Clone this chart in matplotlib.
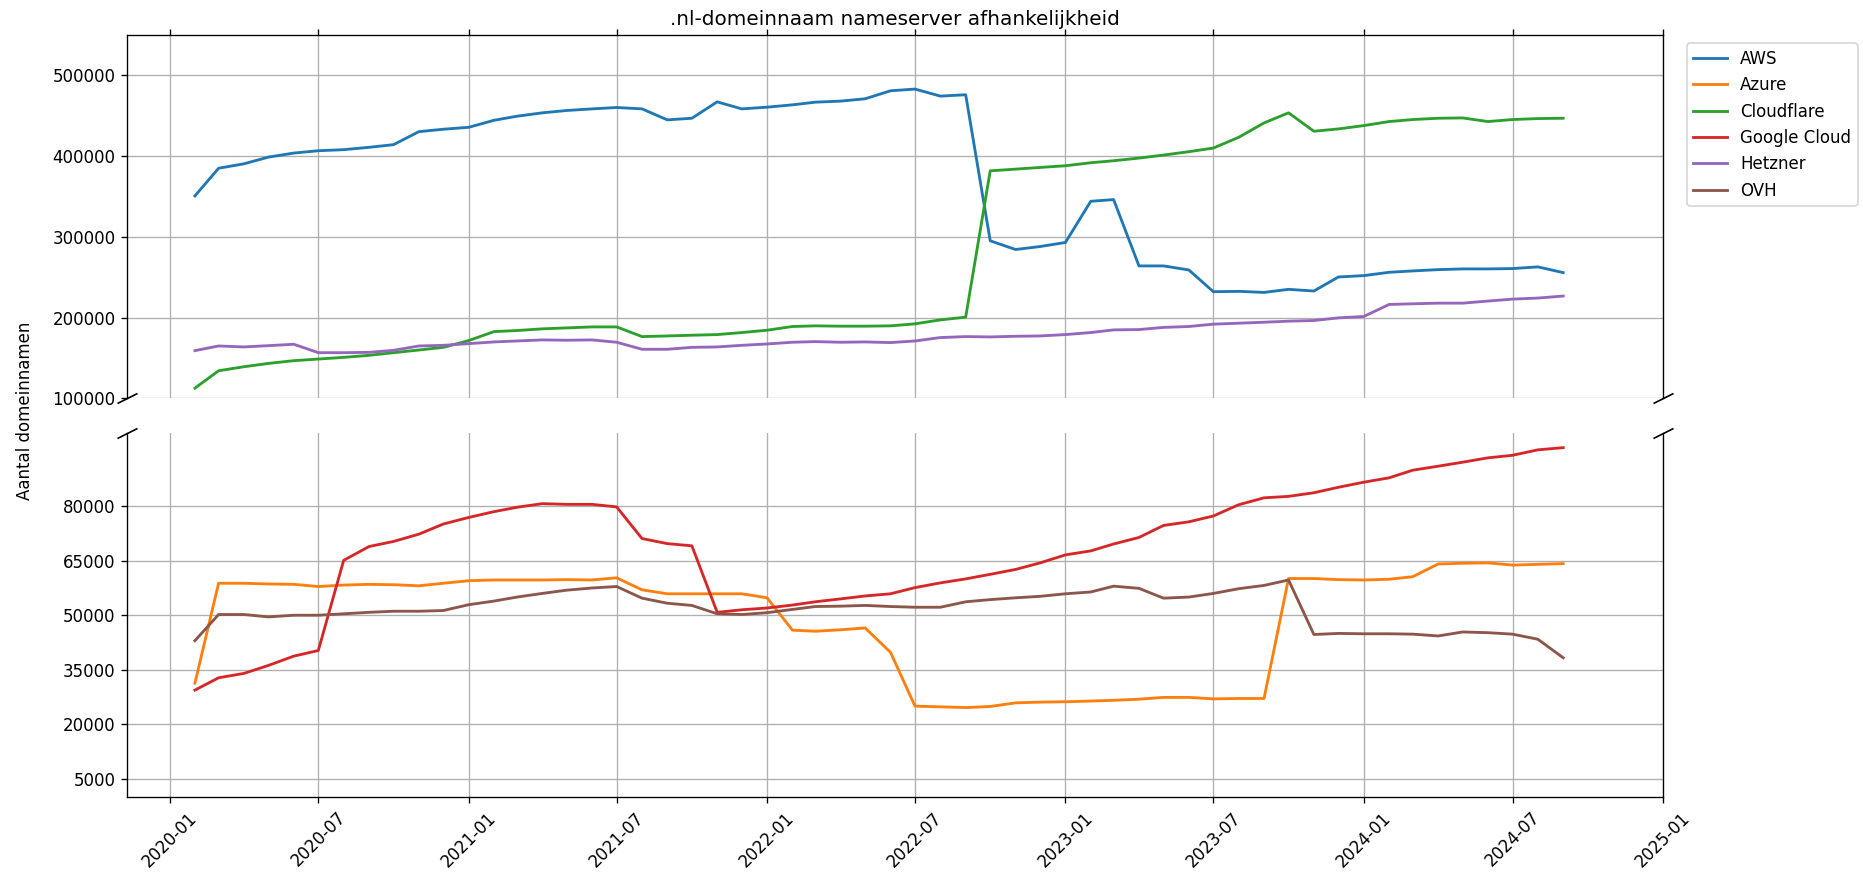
import numpy as np
import pandas as pd
import matplotlib
matplotlib.use("Agg")
import matplotlib.pyplot as plt
import matplotlib.dates as mdates

# maandelijkse datapunten, 2020-02 t/m 2024-09
dates = pd.date_range("2020-02-01", periods=56, freq="MS")

aws = [350700, 385000, 390500, 398800, 403800, 406700, 408000, 410900, 414200, 430300,
       433300, 435700, 444400, 449400, 453600, 456500, 458500, 460200, 458500, 444900,
       446900, 467200, 458500, 460600, 463500, 466800, 468100, 471000, 480900, 483000,
       474300, 476000, 295200, 284400, 288100, 293100, 344100, 346200, 264100, 264100,
       259100, 232200, 232600, 231300, 235100, 233000, 250400, 252100, 256200, 257900,
       259500, 260400, 260400, 260800, 262900, 255800]

azure = [31300, 58800, 58800, 58600, 58500, 57900, 58300, 58500, 58400, 58100,
         58800, 59500, 59700, 59700, 59700, 59800, 59700, 60300, 57000, 55900,
         55900, 55900, 55900, 54800, 45900, 45600, 46000, 46500, 39800, 25000,
         24800, 24600, 24900, 25900, 26100, 26200, 26400, 26600, 26900, 27400,
         27400, 27000, 27100, 27100, 60100, 60100, 59800, 59700, 59900, 60600,
         64100, 64300, 64400, 63800, 64000, 64200]

cloudflare = [112800, 134300, 139300, 143400, 146800, 148800, 150900, 153400, 156700, 160000,
              163300, 171700, 182800, 184100, 186200, 187400, 188600, 188600, 176600, 177400,
              178300, 179100, 181600, 184500, 189100, 189900, 189500, 189500, 189900, 192400,
              197300, 200700, 381800, 383900, 386000, 388100, 391800, 394300, 397600, 401300,
              405500, 410000, 423300, 441100, 453600, 430800, 433700, 437800, 442800, 445300,
              446900, 447300, 442800, 445300, 446500, 446900]

google = [29400, 32800, 34000, 36200, 38750, 40300, 65100, 68900, 70300, 72300,
          75100, 76900, 78500, 79700, 80700, 80500, 80500, 79800, 71100, 69700,
          69100, 50800, 51500, 52000, 52800, 53700, 54500, 55300, 55900, 57600,
          58900, 60000, 61250, 62600, 64400, 66600, 67700, 69600, 71400, 74700,
          75700, 77300, 80400, 82300, 82700, 83700, 85200, 86600, 87800, 89900,
          91000, 92100, 93300, 94000, 95500, 96100]

hetzner = [159200, 165000, 163800, 165400, 167100, 156700, 156700, 157100, 159600, 165000,
           165800, 167900, 170000, 171200, 172500, 172100, 172500, 169600, 160900, 160900,
           163300, 163800, 165800, 167500, 169600, 170400, 169600, 170000, 169200, 171200,
           175400, 176600, 176200, 177000, 177400, 179100, 181600, 184900, 185300, 188000,
           189100, 192000, 193200, 194400, 195700, 196500, 199800, 201500, 216400, 217200,
           218000, 218000, 220600, 223000, 224300, 226800]

ovh = [43000, 50200, 50200, 49550, 50000, 50000, 50400, 50800, 51100, 51100,
       51300, 52900, 53900, 55000, 56000, 56900, 57500, 57900, 54700, 53300,
       52700, 50400, 50200, 50700, 51600, 52400, 52500, 52700, 52400, 52200,
       52200, 53700, 54300, 54800, 55200, 55900, 56400, 58000, 57400, 54700,
       55000, 56000, 57300, 58200, 59700, 44700, 45000, 44900, 44900, 44800,
       44300, 45400, 45200, 44800, 43400, 38300]

names = ["AWS", "Azure", "Cloudflare", "Google Cloud", "Hetzner", "OVH"]
series = [aws, azure, cloudflare, google, hetzner, ovh]

top_ticks = [100000, 200000, 300000, 400000, 500000]
bottom_ticks = [5000, 20000, 35000, 50000, 65000, 80000]

fig, (ax1, ax2) = plt.subplots(2, 1, sharex=True, figsize=(1863 / 120, 874 / 120), dpi=120)
fig.subplots_adjust(left=0.0682, right=0.8926, top=0.960, bottom=0.0881, hspace=0.0963)

for name, values in zip(names, series):
    ax1.plot(dates, values, label=name, linewidth=1.7)
    ax2.plot(dates, values, label=name, linewidth=1.7)

ax1.set_ylim(100000, 550000)
ax2.set_ylim(0, 100000)
ax1.set_yticks(top_ticks)
ax2.set_yticks(bottom_ticks)

# gebroken as
ax1.spines["bottom"].set_visible(False)
ax2.spines["top"].set_visible(False)
ax1.xaxis.tick_top()
ax1.tick_params(labeltop=False)
ax2.xaxis.tick_bottom()

d = 0.5
kwargs = dict(marker=[(-1, -d), (1, d)], markersize=12, linestyle="none",
              color="k", mec="k", mew=1, clip_on=False)
ax1.plot([0, 1], [0, 0], transform=ax1.transAxes, **kwargs)
ax2.plot([0, 1], [1, 1], transform=ax2.transAxes, **kwargs)

ax2.set_xlim(pd.Timestamp("2019-11-10"), pd.Timestamp("2025-01-01"))
ax2.xaxis.set_major_locator(mdates.MonthLocator(bymonth=[1, 7]))
ax2.xaxis.set_major_formatter(mdates.DateFormatter("%Y-%m"))
ax2.tick_params(axis="x", labelrotation=45)

ax1.grid(True)
ax2.grid(True)

ax1.set_title(".nl-domeinnaam nameserver afhankelijkheid")
fig.text(0.0135, 0.53, "Aantal domeinnamen", rotation=90, ha="center", va="center")
ax1.legend(loc="upper left", bbox_to_anchor=(1.01, 1.0))

plt.savefig("out.png", dpi=120)
plt.close()
